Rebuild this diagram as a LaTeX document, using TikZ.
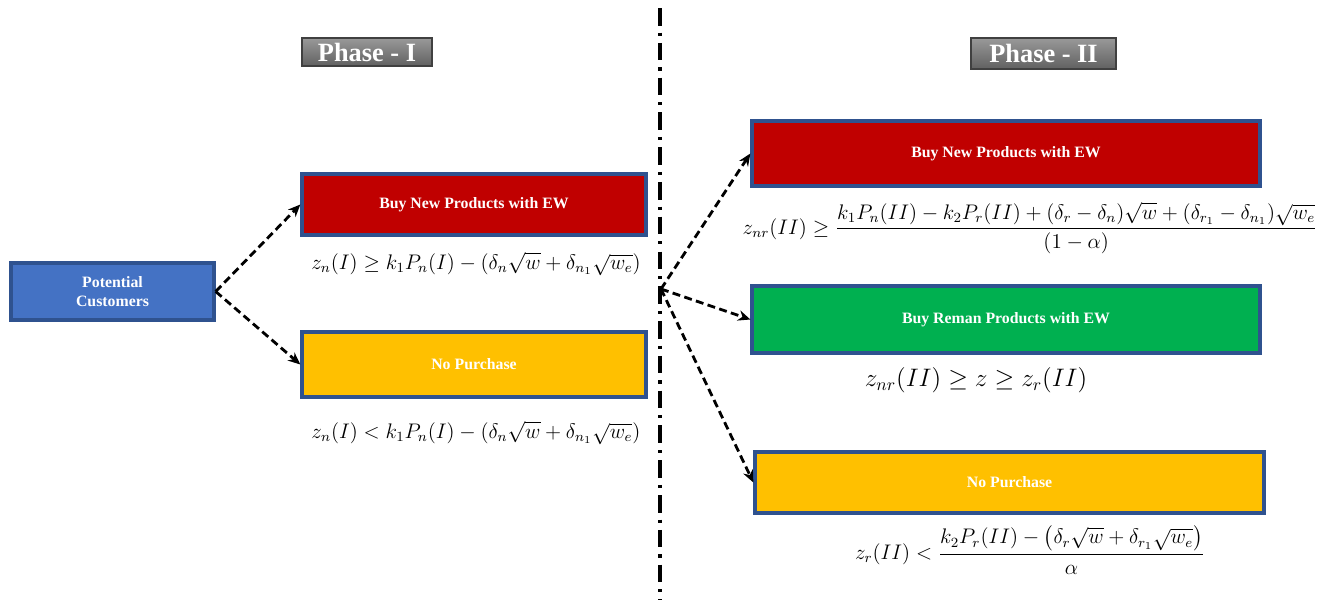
\documentclass[tikz,border=0pt]{standalone}
\usepackage{amsmath}
\usepackage{fontspec}
\setmainfont{Liberation Serif}
\usetikzlibrary{arrows.meta}
\definecolor{boxline}{HTML}{2F528F}
\definecolor{custblue}{HTML}{4472C4}
\definecolor{buyred}{HTML}{C00000}
\definecolor{remangreen}{HTML}{00B050}
\definecolor{nopyellow}{HTML}{FFC000}
\tikzset{
  choice/.style={draw=boxline,line width=2.2pt,text=white,font=\fontsize{9}{11}\selectfont\bfseries,align=center,inner sep=0pt},
  phase/.style={draw=black!75,line width=0.8pt,top color=black!40,bottom color=black!62,text=white,font=\fontsize{15}{17}\selectfont\bfseries,inner sep=0pt},
  cond/.style={font=\fontsize{12}{14}\selectfont,inner sep=0pt},
  flow/.style={-{Stealth[length=7pt,width=6pt]},line width=1.6pt,dash pattern=on 4.5pt off 2.5pt}
}
\begin{document}
\begin{tikzpicture}[x=0.02cm,y=-0.02cm]
\useasboundingbox (0,0) rectangle (1325,600);
% phase titles
\node[phase,minimum width=2.6cm,minimum height=0.56cm] (ph1) at (367,52) {Phase - I};
\node[phase,minimum width=2.9cm,minimum height=0.62cm] (ph2) at (1043.5,53.5) {Phase - II};
% dividing line
\coordinate (top) at (660,8);
\coordinate (bot) at (660,600);
\draw[line width=2.2pt,dash pattern=on 10pt off 4pt on 1.8pt off 4pt] (top) -- (bot);
\coordinate (split) at (661,289);
% phase I
\node[choice,fill=custblue,minimum width=4.05cm,minimum height=1.13cm] (cust) at (112.5,291.5) {Potential\\Customers};
\node[choice,fill=buyred,minimum width=6.87cm,minimum height=1.21cm] (buy1) at (474,204.5) {Buy New Products with EW};
\node[choice,fill=nopyellow,minimum width=6.87cm,minimum height=1.29cm] (nop1) at (474,364.5) {No Purchase};
\node[cond] (c1) at (476,264) {$z_n(I) \geq k_1P_n(I) - (\delta_n\sqrt{w} + \delta_{n_1}\sqrt{w_e})$};
\node[cond] (c2) at (476,433) {$z_n(I) < k_1P_n(I) - (\delta_n\sqrt{w} + \delta_{n_1}\sqrt{w_e})$};
\draw[flow] (cust.east) -- (buy1.west);
\draw[flow] (cust.east) -- (nop1.west);
% phase II
\node[choice,fill=buyred,minimum width=10.15cm,minimum height=1.29cm] (buy2) at (1006,153.5) {Buy New Products with EW};
\node[choice,fill=remangreen,minimum width=10.15cm,minimum height=1.33cm] (reman) at (1006,319.5) {Buy Reman Products with EW};
\node[choice,fill=nopyellow,minimum width=10.17cm,minimum height=1.21cm] (nop2) at (1009.5,482.5) {No Purchase};
\node[cond,font=\fontsize{11.7}{14}\selectfont] (c3) at (1030,228) {$z_{nr}(II) \geq \dfrac{k_1P_n(II) - k_2P_r(II) + (\delta_r - \delta_n)\sqrt{w} + (\delta_{r_1} - \delta_{n_1})\sqrt{w_e}}{(1-\alpha)}$};
\node[cond,font=\fontsize{14.5}{17}\selectfont] (c4) at (976,380) {$z_{nr}(II) \geq z \geq z_r(II)$};
\node[cond] (c5) at (1030,550) {$z_r(II) < \dfrac{k_2P_r(II) - \bigl(\delta_r\sqrt{w} + \delta_{r_1}\sqrt{w_e}\bigr)}{\alpha}$};
\draw[flow] (split) -- (buy2.west);
\draw[flow] (split) -- (reman.west);
\draw[flow] (split) -- (nop2.west);
\end{tikzpicture}
\end{document}
